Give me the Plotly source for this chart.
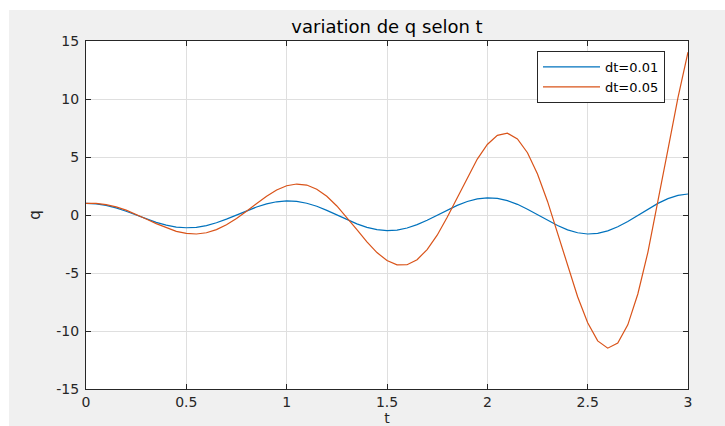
import plotly.graph_objects as go

# time samples (s)
t_coarse = [round(0.05 * i, 2) for i in range(61)]

# q(t) for dt = 0.01 (read at every 0.05 s)
q_dt001 = [1.00, 0.96, 0.83, 0.61, 0.32, 0.00, -0.33, -0.63, -0.87, -1.04,
           -1.10, -1.06, -0.91, -0.67, -0.36, -0.01, 0.35, 0.69, 0.96, 1.14,
           1.22, 1.17, 1.01, 0.75, 0.40, 0.01, -0.39, -0.76, -1.06, -1.26,
           -1.34, -1.30, -1.12, -0.83, -0.45, -0.02, 0.42, 0.83, 1.16, 1.39,
           1.48, 1.43, 1.24, 0.92, 0.50, 0.03, -0.46, -0.91, -1.28, -1.53,
           -1.64, -1.58, -1.37, -1.02, -0.56, -0.04, 0.50, 1.00, 1.41, 1.69,
           1.81]

# q(t) for dt = 0.05
q_dt005 = [1.00, 1.00, 0.90, 0.70, 0.42, 0.06, -0.34, -0.74, -1.11, -1.41,
           -1.59, -1.64, -1.53, -1.26, -0.84, -0.30, 0.33, 0.99, 1.62, 2.15,
           2.52, 2.67, 2.58, 2.22, 1.61, 0.78, -0.21, -1.27, -2.32, -3.24,
           -3.93, -4.30, -4.29, -3.85, -2.98, -1.74, -0.20, 1.51, 3.24, 4.82,
           6.08, 6.86, 7.05, 6.56, 5.37, 3.54, 1.17, -1.54, -4.37, -7.05,
           -9.29, -10.85, -11.48, -11.04, -9.47, -6.81, -3.22, 1.05, 5.63, 10.11,
           14.04]

x_ticks = [0, 0.5, 1, 1.5, 2, 2.5, 3]
x_ticktext = ["0", "0.5", "1", "1.5", "2", "2.5", "3"]
y_ticks = [-15, -10, -5, 0, 5, 10, 15]
y_ticktext = ["-15", "-10", "-5", "0", "5", "10", "15"]

FONT = "DejaVu Sans"
AX = "#262626"
GRID = "#dfdfdf"
FIGBG = "#f0f0f0"

W, H = 725, 426
L, R, T, B = 86, 688, 41, 389  # plot area in pixels

fig = go.Figure()
fig.add_trace(go.Scatter(x=t_coarse, y=q_dt001, mode="lines", name="dt=0.01",
                         line=dict(color="#0072BD", width=1.2)))
fig.add_trace(go.Scatter(x=t_coarse, y=q_dt005, mode="lines", name="dt=0.05",
                         line=dict(color="#D95319", width=1.2)))

axis_common = dict(
    showgrid=True, gridcolor=GRID, gridwidth=1,
    zeroline=False, showline=True, linecolor=AX, linewidth=1,
    mirror="ticks", ticks="inside", ticklen=5, tickcolor=AX, tickwidth=1,
    tickfont=dict(family=FONT, size=14, color=AX), automargin=False,
)

pw, ph = R - L, B - T
fig.update_layout(
    width=W, height=H,
    margin=dict(l=L, r=W - R, t=T, b=H - B, autoexpand=False),
    paper_bgcolor=FIGBG, plot_bgcolor="white",
    title=dict(text="variation de q selon t", x=(L + R) / 2 / W, xanchor="center",
               y=1 - 27 / H, yanchor="middle",
               font=dict(family=FONT, size=18, color="#000000")),
    xaxis=dict(range=[0, 3], tickvals=x_ticks, ticktext=x_ticktext,
               title=dict(text="t", font=dict(family=FONT, size=14, color=AX), standoff=10),
               **axis_common),
    yaxis=dict(range=[-15, 15], tickvals=y_ticks, ticktext=y_ticktext,
               ticklabelstandoff=3,
               title=dict(text="q", font=dict(family=FONT, size=15, color=AX), standoff=12),
               **axis_common),
    showlegend=True,
    legend=dict(x=(537 - L) / pw, y=(B - 51) / ph, xanchor="left", yanchor="top",
                bgcolor="white", bordercolor=AX, borderwidth=1,
                font=dict(family=FONT, size=13, color="#000000"),
                itemwidth=57, tracegroupgap=0),
    shapes=[
        dict(type="rect", xref="paper", yref="paper", x0=-0.3, x1=(9 - L) / pw,
             y0=-0.3, y1=1.3, fillcolor="white", line=dict(width=0), layer="below"),
        dict(type="rect", xref="paper", yref="paper", x0=-0.3, x1=1.3,
             y0=(B - 10) / ph, y1=1.3, fillcolor="white", line=dict(width=0), layer="below"),
    ],
)

fig.write_html(
    "out.html",
    config={"displayModeBar": False},
    post_script=(
        "document.documentElement.style.margin='0';"
        "document.documentElement.style.background='" + FIGBG + "';"
        "document.body.style.margin='0';"
        "document.body.style.background='" + FIGBG + "';"
        "document.body.style.overflow='hidden';"
    ),
)
